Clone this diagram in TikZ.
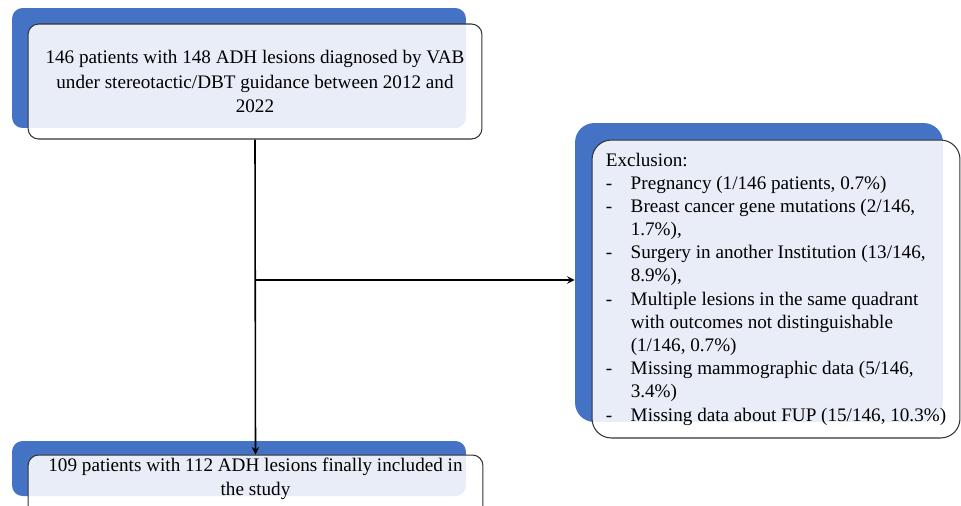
\documentclass[tikz,border=0pt]{standalone}
\usepackage{fontspec}
\setmainfont{Liberation Serif}
\usepackage{tikz}

\definecolor{blueback}{HTML}{4472C4}
\newcommand{\excl}[1]{\makebox[14.2pt][l]{-}#1}
\newcommand{\cont}{\hspace*{14.2pt}}

\begin{document}
\begin{tikzpicture}[x=0.02cm, y=-0.02cm,
    backbox/.style={fill=blueback, rounded corners=6pt, inner sep=0pt},
    frontbox/.style={draw=black!80, line width=0.6pt, fill=white, fill opacity=0.88,
      text opacity=1, rounded corners=6pt, inner sep=0pt,
      font=\fontsize{10.9pt}{13.7pt}\selectfont},
    flow/.style={-stealth, line width=0.9pt}]
        \useasboundingbox (0, 0) rectangle (961, 505);
        \clip (0, 0) rectangle (961, 505);
        % blue boxes behind
        \node[backbox, minimum width=9.08cm, minimum height=2.4cm] (startback) at (239, 68) {};
        \node[backbox, rounded corners=11pt, minimum width=7.36cm, minimum height=5.98cm] (exclback) at (759, 272.5) {};
        \node[backbox, minimum width=9.08cm, minimum height=1.1cm] (finalback) at (239, 468.5) {};
        % boxes with text
        \node[frontbox, align=center, minimum width=9.08cm, minimum height=2.3cm] (start) at (255, 81.5)
          {146 patients with 148 ADH lesions diagnosed by VAB\\
           under stereotactic/DBT guidance between 2012 and\\
           2022};
        \node[frontbox, rounded corners=11pt, align=left, minimum width=7.36cm, minimum height=5.96cm,
          font=\fontsize{10.9pt}{13.2pt}\selectfont] (excl) at (776, 289)
          {Exclusion:\\
           \excl{Pregnancy (1/146 patients, 0.7\%)}\\
           \excl{Breast cancer gene mutations (2/146,}\\
           \cont 1.7\%),\\
           \excl{Surgery in another Institution (13/146,}\\
           \cont 8.9\%),\\
           \excl{Multiple lesions in the same quadrant}\\
           \cont with outcomes not distinguishable\\
           \cont (1/146, 0.7\%)\\
           \excl{Missing mammographic data (5/146,}\\
           \cont 3.4\%)\\
           \excl{Missing data about FUP (15/146, 10.3\%)}};
        \node[frontbox, align=center, inner ysep=1.7pt, minimum width=9.1cm, anchor=north] (final) at (255.5, 454.5)
          {109 patients with 112 ADH lesions finally included in\\
           the study\\
           \mbox{}};
        % arrows
        \draw[flow] (start.south) -- (final.north);
        \coordinate (split) at (start.south |- 0, 280);
        \draw[flow] (split) -- (split -| exclback.west);
\end{tikzpicture}
\end{document}
